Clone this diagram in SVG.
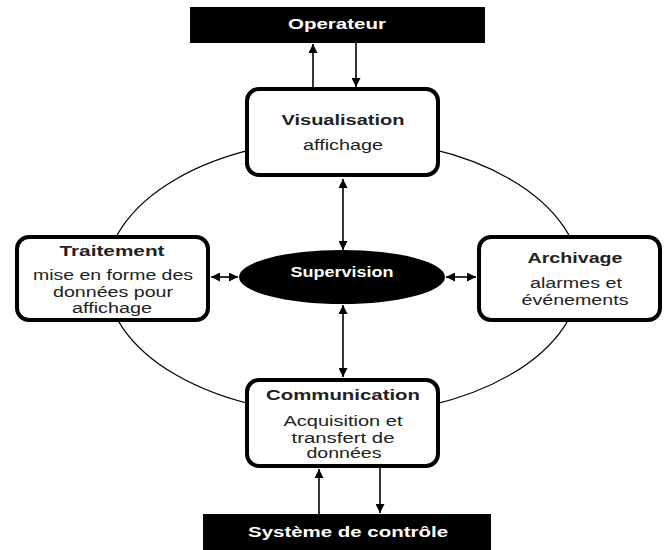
<svg xmlns="http://www.w3.org/2000/svg" width="664" height="550" viewBox="0 0 664 550">
<defs>
<marker id="ah" viewBox="0 0 10 10" refX="10" refY="5" markerUnits="userSpaceOnUse" markerWidth="10" markerHeight="9" orient="auto-start-reverse">
<path d="M0,0 L10,5 L0,10 z" fill="#000"/>
</marker>
<style>
.box{fill:#fff;stroke:#000;stroke-width:4}
.dark{fill:#000}
.t{font-family:"Liberation Sans",Arial,sans-serif;font-size:14px;text-anchor:middle;fill:#222}
.b{font-weight:bold}
.w{fill:#fff}
.c{fill:none;stroke:#000;stroke-width:1.6}
.ring{fill:none;stroke:#000;stroke-width:1.2}
</style>
</defs>
<rect width="664" height="550" fill="#fff"/>
<ellipse class="ring" cx="343" cy="277" rx="237" ry="138"/>
<g id="connectors">
<line class="c" x1="313" y1="88" x2="313" y2="44" marker-end="url(#ah)"/>
<line class="c" x1="356" y1="43" x2="356" y2="87" marker-end="url(#ah)"/>
<line class="c" x1="343" y1="179" x2="343" y2="250" marker-start="url(#ah)" marker-end="url(#ah)"/>
<line class="c" x1="343" y1="305" x2="343" y2="377" marker-start="url(#ah)" marker-end="url(#ah)"/>
<line class="c" x1="211" y1="277" x2="238" y2="277" marker-start="url(#ah)" marker-end="url(#ah)"/>
<line class="c" x1="446" y1="277" x2="476" y2="277" marker-start="url(#ah)" marker-end="url(#ah)"/>
<line class="c" x1="319" y1="514" x2="319" y2="469" marker-end="url(#ah)"/>
<line class="c" x1="380" y1="468" x2="380" y2="513" marker-end="url(#ah)"/>
</g>
<g id="operateur">
<rect class="dark" x="190" y="7" width="295" height="36"/>
<text class="t b w" x="337" y="29" textLength="98" lengthAdjust="spacingAndGlyphs">Operateur</text>
</g>
<g id="visualisation">
<rect class="box" x="247" y="89" width="191" height="86" rx="12"/>
<text class="t b" x="343" y="125" textLength="123" lengthAdjust="spacingAndGlyphs">Visualisation</text>
<text class="t" x="343" y="150" textLength="80" lengthAdjust="spacingAndGlyphs">affichage</text>
</g>
<g id="traitement">
<rect class="box" x="17" y="237" width="191" height="83" rx="12"/>
<text class="t b" x="112" y="256" textLength="105" lengthAdjust="spacingAndGlyphs">Traitement</text>
<text class="t" x="113" y="280" textLength="160" lengthAdjust="spacingAndGlyphs">mise en forme des</text>
<text class="t" x="113" y="297" textLength="120" lengthAdjust="spacingAndGlyphs">données pour</text>
<text class="t" x="112" y="313" textLength="80" lengthAdjust="spacingAndGlyphs">affichage</text>
</g>
<g id="supervision">
<ellipse class="dark" cx="342" cy="277" rx="103" ry="27"/>
<text class="t b w" x="342" y="277" textLength="103" lengthAdjust="spacingAndGlyphs">Supervision</text>
</g>
<g id="archivage">
<rect class="box" x="479" y="237" width="181" height="83" rx="12"/>
<text class="t b" x="575" y="263" textLength="95" lengthAdjust="spacingAndGlyphs">Archivage</text>
<text class="t" x="576" y="288" textLength="92" lengthAdjust="spacingAndGlyphs">alarmes et</text>
<text class="t" x="575" y="305" textLength="107" lengthAdjust="spacingAndGlyphs">événements</text>
</g>
<g id="communication">
<rect class="box" x="247" y="380" width="191" height="86" rx="12"/>
<text class="t b" x="343" y="400" textLength="154" lengthAdjust="spacingAndGlyphs">Communication</text>
<text class="t" x="343" y="426" textLength="119" lengthAdjust="spacingAndGlyphs">Acquisition et</text>
<text class="t" x="343" y="443" textLength="103" lengthAdjust="spacingAndGlyphs">transfert de</text>
<text class="t" x="344" y="458" textLength="75" lengthAdjust="spacingAndGlyphs">données</text>
</g>
<g id="systeme">
<rect class="dark" x="203" y="514" width="288" height="36"/>
<text class="t b w" x="348" y="537" textLength="200" lengthAdjust="spacingAndGlyphs">Système de contrôle</text>
</g>
</svg>
